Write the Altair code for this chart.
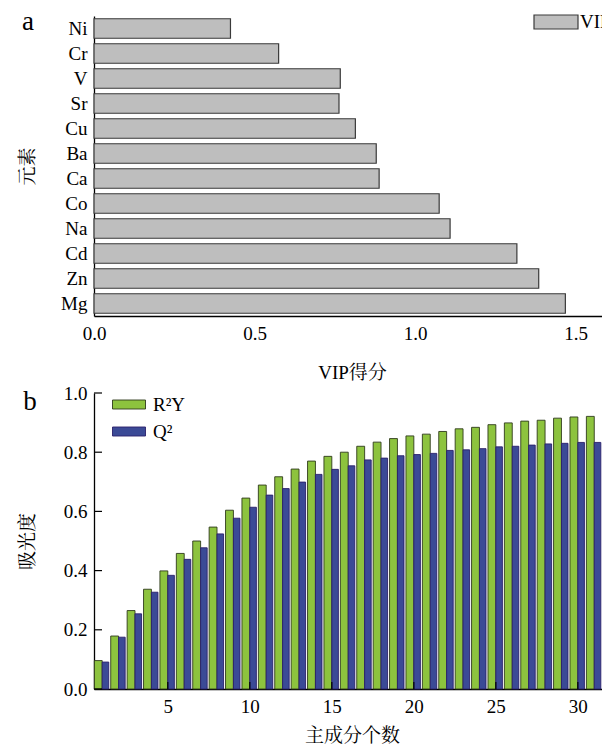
import altair as alt
import pandas as pd

# ---------- data ----------
elements = ["Ni", "Cr", "V", "Sr", "Cu", "Ba", "Ca", "Co", "Na", "Cd", "Zn", "Mg"]
vip = [0.425, 0.575, 0.767, 0.763, 0.814, 0.879, 0.888, 1.075, 1.109, 1.317, 1.385, 1.468]

components = list(range(1, 32))
r2y = [0.096, 0.179, 0.265, 0.337, 0.399, 0.458, 0.500, 0.547, 0.604, 0.645,
       0.689, 0.717, 0.743, 0.770, 0.786, 0.800, 0.820, 0.834, 0.846, 0.855,
       0.861, 0.870, 0.879, 0.884, 0.893, 0.899, 0.905, 0.908, 0.915, 0.919, 0.921]
q2 = [0.091, 0.175, 0.254, 0.327, 0.384, 0.438, 0.477, 0.524, 0.577, 0.614,
      0.655, 0.677, 0.699, 0.725, 0.742, 0.754, 0.774, 0.780, 0.788, 0.792,
      0.796, 0.806, 0.808, 0.812, 0.818, 0.820, 0.824, 0.828, 0.830, 0.833, 0.833]
series_names = ["R²Y", "Q²"]
x_tick_values = [5, 10, 15, 20, 25, 30]
y_tick_values = [0.0, 0.2, 0.4, 0.6, 0.8, 1.0]
vip_tick_values = [0.0, 0.5, 1.0, 1.5]

SERIF = "Liberation Serif"
CJK = "Liberation Serif, Noto Serif CJK SC, Noto Sans CJK SC"

# ---------- panel a ----------
top_df = pd.DataFrame({"element": elements, "vip": vip, "series": ["VIP"] * len(elements)})
TOP_W, TOP_H = 516, 300

bars_a = alt.Chart(top_df).mark_bar(stroke="#3a3a3a", strokeWidth=1.2).encode(
    y=alt.Y("element:N", sort=elements,
            scale=alt.Scale(paddingInner=0.22, paddingOuter=0.11),
            axis=alt.Axis(title="元素", titleX=-67, titleY=TOP_H / 2, titleAngle=-90,
                          titleBaseline="middle", labelPadding=7)),
    x=alt.X("vip:Q", scale=alt.Scale(domain=[0, 1.607], nice=False),
            axis=alt.Axis(title="VIP得分", values=vip_tick_values, format=".1f",
                          labelBaseline="alphabetic", labelPadding=23,
                          titleBaseline="alphabetic", titleY=62)),
    color=alt.Color("series:N", scale=alt.Scale(domain=["VIP"], range=["#BEBEBE"]),
                    legend=alt.Legend(title=None, orient="none", legendX=451, legendY=-5,
                                      symbolType="M-2.2,-0.7H2.2V0.7H-2.2Z", symbolSize=400,
                                      symbolStrokeColor="#3a3a3a", symbolStrokeWidth=1.2,
                                      labelOffset=13, labelFont=SERIF, labelFontSize=19,
                                      labelColor="black")),
)
label_a = alt.Chart(pd.DataFrame({"t": ["a"]})).mark_text(
    font=SERIF, fontSize=27, baseline="alphabetic", align="center", color="black"
).encode(text="t:N", x=alt.value(-66), y=alt.value(14))

panel_a = alt.layer(bars_a, label_a).properties(width=TOP_W, height=TOP_H)

# ---------- panel b ----------
rows = []
for i, n in enumerate(components):
    rows.append({"n": n, "series": series_names[0], "value": r2y[i]})
    rows.append({"n": n, "series": series_names[1], "value": q2[i]})
bot_df = pd.DataFrame(rows)
BOT_W, BOT_H = 516, 296

bars_b = alt.Chart(bot_df).transform_calculate(
    x0="datum.series == 'R²Y' ? datum.n - 0.48 : datum.n",
    x1="datum.series == 'R²Y' ? datum.n : datum.n + 0.40",
).mark_bar(strokeWidth=0.9).encode(
    x=alt.X("x0:Q", scale=alt.Scale(domain=[0.5, 31.96], nice=False, zero=False),
            axis=alt.Axis(title="主成分个数", values=x_tick_values, format="d",
                          labelBaseline="alphabetic", labelPadding=23,
                          titleBaseline="alphabetic", titleY=52)),
    x2="x1:Q",
    y=alt.Y("value:Q", scale=alt.Scale(domain=[0, 1], nice=False),
            axis=alt.Axis(title="吸光度", values=y_tick_values, format=".1f",
                          titleX=-67, titleY=BOT_H / 2, titleAngle=-90,
                          titleBaseline="middle", labelPadding=7)),
    y2=alt.datum(0),
    color=alt.Color("series:N", scale=alt.Scale(domain=series_names, range=["#8DC33E", "#3B4A96"]),
                    legend=alt.Legend(title=None, orient="none", legendX=24.5, legendY=1,
                                      symbolType="M-1.65,-0.45H1.65V0.45H-1.65Z", symbolSize=400,
                                      symbolStrokeColor="#333333", symbolStrokeWidth=0.9,
                                      rowPadding=6, labelOffset=13.5, labelFont=SERIF,
                                      labelFontSize=19, labelColor="black")),
    stroke=alt.Stroke("series:N", scale=alt.Scale(domain=series_names, range=["#2f3a1c", "#2a1f6b"]),
                      legend=None),
)
yticks_b = alt.Chart(pd.DataFrame({"v": y_tick_values})).mark_rule(color="black", strokeWidth=1.2).encode(
    y="v:Q", x=alt.value(0), x2=alt.value(8))
xticks_b = alt.Chart(pd.DataFrame({"v": x_tick_values})).mark_rule(color="black", strokeWidth=1.2).encode(
    x="v:Q", y=alt.value(BOT_H), y2=alt.value(BOT_H - 7))
label_b = alt.Chart(pd.DataFrame({"t": ["b"]})).mark_text(
    font=SERIF, fontSize=27, baseline="alphabetic", align="center", color="black"
).encode(text="t:N", x=alt.value(-64), y=alt.value(17))

panel_b = alt.layer(bars_b, yticks_b, xticks_b, label_b).properties(width=BOT_W, height=BOT_H)

chart = alt.vconcat(panel_a, panel_b, spacing=2).resolve_scale(
    color="independent", stroke="independent"
).resolve_legend(color="independent", stroke="independent").properties(
    padding={"left": 10, "top": 0, "right": -9, "bottom": 0},
    background="white",
).configure_view(stroke=None).configure_axis(
    domainColor="black", domainWidth=1.3, ticks=False, tickSize=0, grid=False,
    labelFlush=False,
    labelFont=SERIF, labelFontSize=19, labelColor="black",
    titleFont=CJK, titleFontSize=19, titleFontWeight="normal", titleColor="black",
)

chart.save("out.html", embed_options={"renderer": "svg", "actions": False})
